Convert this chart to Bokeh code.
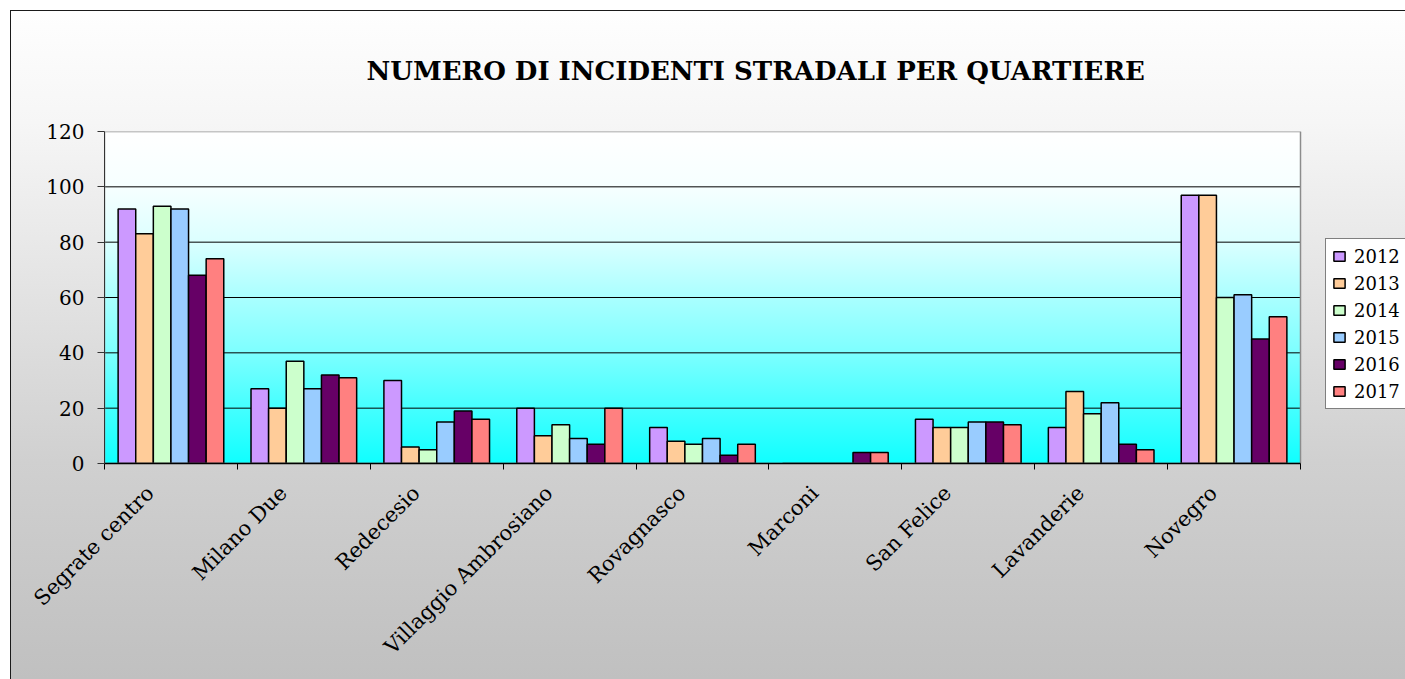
from math import pi
from bokeh.plotting import figure
from bokeh.models import ColumnDataSource, Range1d, FixedTicker, Legend, LegendItem
from bokeh.transform import dodge
from bokeh.embed import file_html
from bokeh.resources import INLINE

# ---- data ----
quartieri = ["Segrate centro", "Milano Due", "Redecesio", "Villaggio Ambrosiano",
             "Rovagnasco", "Marconi", "San Felice", "Lavanderie", "Novegro"]
anni = ["2012", "2013", "2014", "2015", "2016", "2017"]
v2012 = [92, 27, 30, 20, 13, 0, 16, 13, 97]
v2013 = [83, 20, 6, 10, 8, 0, 13, 26, 97]
v2014 = [93, 37, 5, 14, 7, 0, 13, 18, 60]
v2015 = [92, 27, 15, 9, 9, 0, 15, 22, 61]
v2016 = [68, 32, 19, 7, 3, 4, 15, 7, 45]
v2017 = [74, 31, 16, 20, 7, 4, 14, 5, 53]
serie = [v2012, v2013, v2014, v2015, v2016, v2017]
colori = ["#CC99FF", "#FFCC99", "#CCFFCC", "#99CCFF", "#660066", "#FF8080"]
y_ticks = [0, 20, 40, 60, 80, 100, 120]
titolo = "NUMERO DI INCIDENTI STRADALI PER QUARTIERE"

SERIF = "DejaVu Serif"

# ---- layout (pixels) ----
W, H = 1405, 679
PL, PT, PW, PH = 104, 131, 1196, 332     # plot-area box
FRAME_W = W - PL                          # frame runs to the right edge (legend lives there)

n = len(quartieri)
centri = [i + 0.5 for i in range(n)]
confini = [i for i in range(n + 1)]
label_pos = [c - 0.155 for c in centri]
data = dict(x=centri, quartiere=quartieri)
for a, vals in zip(anni, serie):
    data[a] = vals
source = ColumnDataSource(data)

p = figure(width=W, height=H,
           x_range=Range1d(0, n * FRAME_W / PW), y_range=Range1d(y_ticks[0], y_ticks[-1]),
           output_backend="svg", toolbar_location=None,
           min_border_left=PL, min_border_right=0,
           min_border_top=PT, min_border_bottom=H - PT - PH,
           border_fill_color=None, background_fill_color=None,
           outline_line_color=None)

p.styles = {
    "background": (
        "linear-gradient(180deg, #ffffff 0%, #f6ffff 17%, #dcffff 33%, #aaffff 50%, "
        "#7cffff 67%, #46ffff 83%, #10ffff 100%) "
        f"{PL}px {PT}px / {PW}px {PH}px no-repeat, "
        "linear-gradient(180deg, #ffffff 0%, #f6f6f6 18%, #d0d0d0 68%, #c0c0c0 100%)"
    ),
    "box-shadow": "inset 10px 10px 0 0 #ffffff, inset 11px 11px 0 0 #1a1a1a",
}

# title
p.title.text = titolo
p.title.align = "left"
p.title.offset = 262
p.title.text_font = SERIF
p.title.text_font_size = "26px"
p.title.text_font_style = "bold"
p.title.text_color = "#000000"
p.title.standoff = 91

# grid lines (only across the plot area)
grid_y = y_ticks[1:-1]
p.xgrid.visible = False
p.ygrid.visible = False
p.segment(x0=[0] * len(grid_y), x1=[n] * len(grid_y), y0=grid_y, y1=grid_y,
          line_color="#000000", line_width=1)

# bars
w = 0.1325
renderers = []
for k, (a, c) in enumerate(zip(anni, colori)):
    r = p.vbar(x=dodge("x", (k - 2.5) * w, range=p.x_range), top=a, width=w,
               bottom=0, source=source, fill_color=c, line_color="#000000",
               line_width=1.5)
    renderers.append(r)

# plot-area border (top / right)
p.quad(left=[0], right=[n], bottom=[y_ticks[0]], top=[y_ticks[-1]],
       fill_color=None, line_color="#8c8c8c", line_width=1.5)

# y axis
ya = p.yaxis[0]
ya.ticker = FixedTicker(ticks=y_ticks)
ya.minor_tick_line_color = None
ya.major_tick_out = 7
ya.major_tick_in = 0
ya.major_tick_line_color = "#333333"
ya.axis_line_color = "#333333"
ya.major_label_text_font = SERIF
ya.major_label_text_font_size = "20px"
ya.major_label_text_color = "#000000"
ya.major_label_standoff = 13

# x axis
xa = p.xaxis[0]
xa.bounds = (0, n)
xa.ticker = FixedTicker(ticks=label_pos, minor_ticks=confini)
xa.major_label_overrides = {c: q for c, q in zip(label_pos, quartieri)}
xa.major_tick_line_color = None
xa.minor_tick_line_color = "#000000"
xa.minor_tick_out = 6
xa.minor_tick_in = 0
xa.axis_line_color = "#000000"
xa.axis_line_width = 1.5
xa.major_label_orientation = pi / 4
xa.major_label_text_font = SERIF
xa.major_label_text_font_size = "21px"
xa.major_label_text_color = "#000000"
xa.major_label_standoff = 20

# legend (sits right of the plot area, inside the frame)
legend = Legend(items=[LegendItem(label=a, renderers=[r]) for a, r in zip(anni, renderers)],
                location=(1325 - PL, (PT + PH) - 409), orientation="vertical",
                border_line_color="#000000", border_line_width=1,
                background_fill_color="#ffffff", background_fill_alpha=1,
                label_text_font=SERIF, label_text_font_size="18px",
                label_text_color="#000000",
                glyph_width=14, glyph_height=12, label_height=22,
                label_standoff=8, spacing=5, padding=6, margin=0)
p.add_layout(legend, "center")

open("out.html", "w").write(file_html(p, INLINE))
